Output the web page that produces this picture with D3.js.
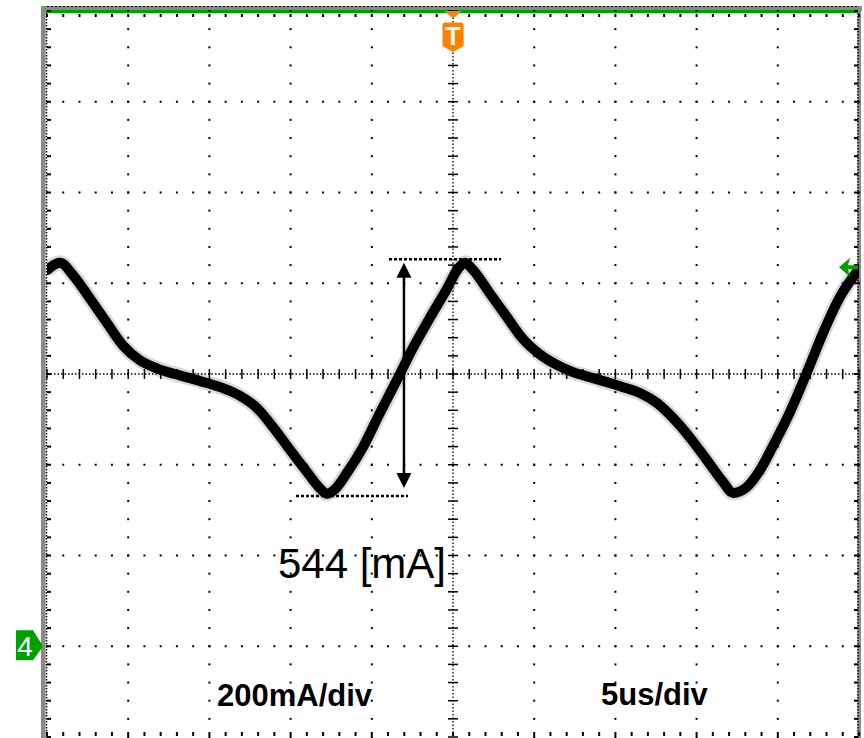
<!DOCTYPE html>
<html><head><meta charset="utf-8">
<script src="https://cdn.jsdelivr.net/npm/d3@7"></script>
<style>html,body{margin:0;padding:0;background:#fff;} svg{display:block;}</style>
</head><body>
<svg id="chart" width="864" height="738"></svg>
<script>
// ---- data (time in microseconds, current in mA; ground reference = channel 4 marker) ----
const timeUs = [-25.0, -24.2, -23.4, -22.35, -21.3, -20.3, -19.27, -18.2, -17.24, -16.19, -15.15, -14.16, -13.12, -12.07, -11.08, -10.04, -8.99, -8.19, -7.76, -7.27, -6.53, -5.54, -4.5, -3.45, -2.46, -1.42, -0.37, 0.31, 0.74, 1.17, 2.28, 3.33, 4.31, 5.36, 6.4, 7.39, 8.44, 9.48, 10.47, 11.51, 12.56, 13.55, 14.59, 15.64, 16.63, 17.24, 18.1, 18.9, 19.7, 20.75, 21.8, 22.78, 23.83, 25.0];
const currentMA = [829, 845, 818, 766, 712, 662, 630, 612, 601, 591, 580, 569, 552, 525, 483, 433, 384, 348, 336, 346, 382, 439, 514, 587, 658, 724, 788, 832, 845, 832, 777, 725, 677, 643, 620, 604, 593, 582, 571, 558, 536, 503, 460, 410, 362, 338, 351, 388, 441, 516, 604, 690, 770, 831];

const xDomainUs = [-25, 25];
const yDomainMA = [-200, 1400];
const xMinorUs = d3.range(-25, 25.001, 1);
const xMajorUs = d3.range(-25, 25.001, 5);
const yMinorMA = d3.range(-200, 1400.001, 40);
const yMajorMA = d3.range(-200, 1400.001, 200);
const centerTimeUs = 0, centerMA = 600;

const scaleLabels = ["200mA/div", "5us/div"];
const measureLabel = "544 [mA]";
const peakLevelMA = 853, troughLevelMA = 331;
const peakLineUs = [-3.94, 2.96], troughLineUs = [-9.67, -2.77];
const arrowUs = -3.02, arrowTopMA = 845, arrowBottomMA = 349;
const triggerLevelMA = 835;
const groundMA = 0;
const channelLabel = "4", triggerLabel = "T";

// ---- scales ----
const X0 = 47, X1 = 859, Y0 = 11, Y1 = 737;
const x = d3.scaleLinear().domain(xDomainUs).range([X0, X1]);
const y = d3.scaleLinear().domain(yDomainMA).range([Y1, Y0]);

const svg = d3.select("#chart");
const FONT = "'Liberation Sans', Arial, Helvetica, sans-serif";

// ---- frame ----
svg.append("rect").attr("x", 41).attr("y", 6).attr("width", 4.5).attr("height", 738).attr("fill", "#8a8a8a");
svg.append("rect").attr("x", 41).attr("y", 6).attr("width", 821).attr("height", 4.5).attr("fill", "#8a8a8a");
svg.append("rect").attr("x", 857.5).attr("y", 6).attr("width", 3.5).attr("height", 738).attr("fill", "#8a8a8a");
svg.append("rect").attr("x", 45.5).attr("y", 10).attr("width", 812).attr("height", 3.2).attr("fill", "#00a000");

const g = svg.append("g");
g.append("line").attr("x1", X0 - 0.5).attr("x2", X0 - 0.5).attr("y1", 13).attr("y2", 738)
  .attr("stroke", "#000").attr("stroke-width", 1.5).attr("stroke-dasharray", "1.5,1.5");
g.append("line").attr("x1", X1 - 1).attr("x2", X1 - 1).attr("y1", 13).attr("y2", 738)
  .attr("stroke", "#000").attr("stroke-width", 1.5).attr("stroke-dasharray", "1.5,1.5");
g.append("line").attr("x1", X0).attr("x2", X1).attr("y1", 6.5).attr("y2", 6.5)
  .attr("stroke", "#000").attr("stroke-width", 1).attr("stroke-dasharray", "2,2");

yMinorMA.forEach(v => {
  g.append("rect").attr("x", X0).attr("y", y(v) - 1).attr("width", 4).attr("height", 2).attr("fill", "#000");
  g.append("rect").attr("x", X1 - 5).attr("y", y(v) - 1).attr("width", 4).attr("height", 2).attr("fill", "#000");
});
xMinorUs.forEach(t => {
  g.append("rect").attr("x", x(t) - 1).attr("y", 14).attr("width", 2).attr("height", 3).attr("fill", "#000");
  g.append("rect").attr("x", x(t) - 1).attr("y", 732).attr("width", 2).attr("height", 4).attr("fill", "#000");
});

xMajorUs.filter(t => t > xDomainUs[0] && t < xDomainUs[1] && t !== centerTimeUs).forEach(t => {
  yMinorMA.forEach(v => {
    g.append("rect").attr("x", x(t) - 1).attr("y", y(v) - 1).attr("width", 2).attr("height", 2).attr("fill", "#000");
  });
});
yMajorMA.filter(v => v > yDomainMA[0] && v < yDomainMA[1] && v !== centerMA).forEach(v => {
  xMinorUs.forEach(t => {
    g.append("rect").attr("x", x(t) - 1).attr("y", y(v) - 1).attr("width", 2).attr("height", 2).attr("fill", "#000");
  });
});

g.append("line").attr("x1", x(centerTimeUs)).attr("x2", x(centerTimeUs)).attr("y1", Y0 + 3).attr("y2", Y1)
  .attr("stroke", "#000").attr("stroke-width", 1.3).attr("stroke-dasharray", "1.5,2");
g.append("line").attr("x1", X0).attr("x2", X1).attr("y1", y(centerMA)).attr("y2", y(centerMA))
  .attr("stroke", "#000").attr("stroke-width", 1.3).attr("stroke-dasharray", "1.5,2");
yMinorMA.forEach(v => {
  g.append("line").attr("x1", x(centerTimeUs) - 5).attr("x2", x(centerTimeUs) + 5).attr("y1", y(v)).attr("y2", y(v))
    .attr("stroke", "#000").attr("stroke-width", 1.5);
});
xMinorUs.forEach(t => {
  g.append("line").attr("x1", x(t)).attr("x2", x(t)).attr("y1", y(centerMA) - 5).attr("y2", y(centerMA) + 5)
    .attr("stroke", "#000").attr("stroke-width", 1.5);
});

// ---- trace ----
const clip = svg.append("clipPath").attr("id", "plotclip");
clip.append("rect").attr("x", X0).attr("y", Y0).attr("width", X1 - X0).attr("height", Y1 - Y0);
const pts = timeUs.map((t, i) => [t, currentMA[i]]);
const line = d3.line().x(d => x(d[0])).y(d => y(d[1])).curve(d3.curveMonotoneX);
const tg = svg.append("g").attr("clip-path", "url(#plotclip)");
tg.append("path").datum(pts).attr("d", line).attr("fill", "none")
  .attr("stroke", "#000").attr("stroke-opacity", 0.15).attr("stroke-width", 15).attr("stroke-linejoin", "round");
tg.append("path").datum(pts).attr("d", line).attr("fill", "none")
  .attr("stroke", "#000").attr("stroke-width", 10).attr("stroke-linejoin", "round").attr("stroke-linecap", "round");

// ---- annotation ----
const ann = svg.append("g");
ann.append("line").attr("x1", x(peakLineUs[0])).attr("x2", x(peakLineUs[1])).attr("y1", y(peakLevelMA)).attr("y2", y(peakLevelMA))
  .attr("stroke", "#000").attr("stroke-width", 2.6).attr("stroke-dasharray", "3,2");
ann.append("line").attr("x1", x(troughLineUs[0])).attr("x2", x(troughLineUs[1])).attr("y1", y(troughLevelMA)).attr("y2", y(troughLevelMA))
  .attr("stroke", "#000").attr("stroke-width", 2.6).attr("stroke-dasharray", "3,2");
const ax = x(arrowUs), ay1 = y(arrowTopMA), ay2 = y(arrowBottomMA);
ann.append("line").attr("x1", ax).attr("x2", ax).attr("y1", ay1 + 10).attr("y2", ay2 - 10)
  .attr("stroke", "#000").attr("stroke-width", 2.5);
ann.append("path").attr("d", `M${ax},${ay1} L${ax - 7.5},${ay1 + 15} L${ax + 7.5},${ay1 + 15} Z`).attr("fill", "#000");
ann.append("path").attr("d", `M${ax},${ay2} L${ax - 7.5},${ay2 - 15} L${ax + 7.5},${ay2 - 15} Z`).attr("fill", "#000");
ann.append("text").attr("x", x(-10.78)).attr("y", y(150)).attr("font-family", FONT).attr("font-size", 42)
  .attr("fill", "#000").text(measureLabel);

svg.append("text").attr("x", 217).attr("y", 706).attr("font-family", FONT).attr("font-weight", "bold")
  .attr("font-size", 31).attr("fill", "#000").text(scaleLabels[0]);
svg.append("text").attr("x", 601).attr("y", 705).attr("font-family", FONT).attr("font-weight", "bold")
  .attr("font-size", 31).attr("fill", "#000").text(scaleLabels[1]);

// ---- markers ----
const tx = x(centerTimeUs);
const orange = "#ff7f00";
svg.append("path").attr("d", `M${tx - 8.5},11 L${tx + 8.5},11 L${tx},18.5 Z`).attr("fill", orange);
svg.append("path").attr("d", `M${tx - 10.5},25 Q${tx - 10.5},22.5 ${tx - 8},22.5 L${tx + 8},22.5 Q${tx + 10.5},22.5 ${tx + 10.5},25 L${tx + 10.5},46 L${tx},52 L${tx - 10.5},46 Z`).attr("fill", orange);
svg.append("text").attr("x", tx).attr("y", 45).attr("text-anchor", "middle").attr("font-family", FONT)
  .attr("font-weight", "bold").attr("font-size", 25).attr("fill", "#fff").text(triggerLabel);

const gy = y(groundMA);
const green = "#00a000";
svg.append("path").attr("d", `M16,${gy - 16} L33,${gy - 16} L43,${gy} L33,${gy + 14} L16,${gy + 14} Z`).attr("fill", green);
svg.append("text").attr("x", 25).attr("y", gy + 10).attr("text-anchor", "middle").attr("font-family", FONT)
  .attr("font-size", 28).attr("fill", "#fff").text(channelLabel);

const ty = y(triggerLevelMA);
svg.append("path").attr("d", `M839,${ty} L850,${ty - 9.5} L848,${ty - 2} L858,${ty - 2} L858,${ty + 2} L848,${ty + 2} L850,${ty + 9.5} Z`).attr("fill", green);
</script>
</body></html>
